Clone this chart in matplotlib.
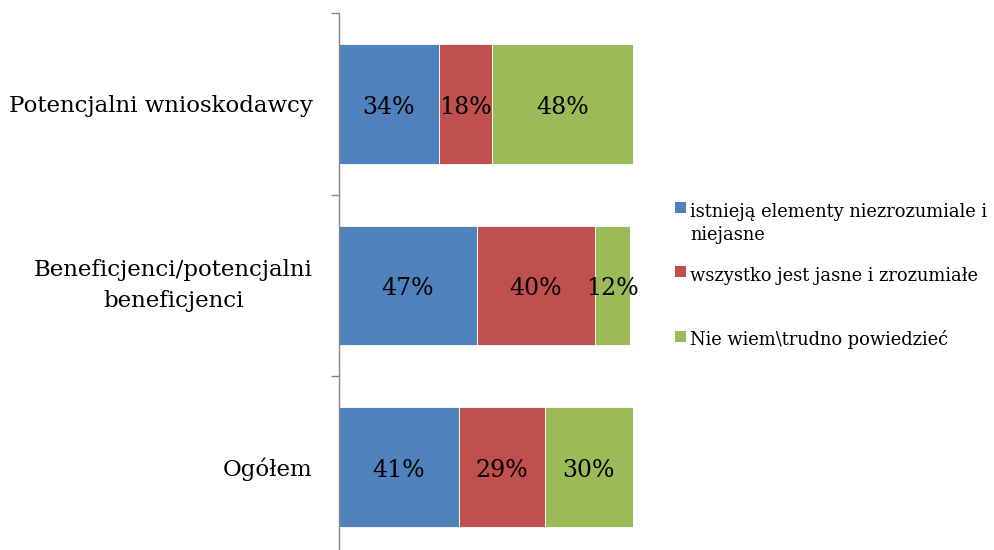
import matplotlib
matplotlib.use("Agg")
import matplotlib.pyplot as plt
from matplotlib.patches import Rectangle
import numpy as np

categories = ["Potencjalni wnioskodawcy", "Beneficjenci/potencjalni\nbeneficjenci", "Ogółem"]
series_names = ["istnieją elementy niezrozumiale i\nniejasne",
                "wszystko jest jasne i zrozumiałe",
                "Nie wiem\\trudno powiedzieć"]
unclear = [34, 47, 41]
clear = [18, 40, 29]
dont_know = [48, 12, 30]
colors = ["#4F81BD", "#C0504D", "#9BBB59"]

W, H = 994, 550
fig = plt.figure(figsize=(W / 100, H / 100), dpi=100)
ax = fig.add_axes([338.5 / W, 1 - 558 / H, (633 - 338.5) / W, (558 - 13) / H])

font = "DejaVu Serif"
y = np.arange(len(categories))
left = np.zeros(len(categories))
for vals, col in zip([unclear, clear, dont_know], colors):
    vals = np.array(vals, dtype=float)
    ax.barh(y, vals, left=left, height=0.66, color=col, edgecolor="white", linewidth=0.6)
    for yi, l, v in zip(y, left, vals):
        ax.annotate(f"{int(v)}%", (l + v / 2, yi), xytext=(0, -2.5), textcoords="offset points",
                    ha="center", va="center", fontsize=17, family=font, color="black")
    left += vals

ax.set_xlim(0, 100)
ax.set_ylim(len(categories) - 0.5, -0.5)
ax.set_xticks([])
ax.set_yticks(y)
ax.set_yticklabels(categories, family=font, fontsize=16.5, ha="right",
                   multialignment="center", linespacing=1.55)
for lbl in ax.get_yticklabels():
    if "\n" in lbl.get_text():
        lbl.set_va("center")
ax.tick_params(axis="y", which="major", length=0, pad=18.5)
ax.set_yticks(np.arange(-0.5, len(categories)), minor=True)
ax.tick_params(axis="y", which="minor", length=6, width=1, color="#868686", direction="out")
for s in ["top", "right", "bottom"]:
    ax.spines[s].set_visible(False)
ax.spines["left"].set_color("#868686")
ax.spines["left"].set_linewidth(1)

# legend: square markers and baseline-aligned text lines, in figure pixels
legend_baselines = [216.7, 280.7, 345]
line_gap = 23.3
for base, name, col in zip(legend_baselines, series_names, colors):
    fig.patches.append(Rectangle((674.5 / W, 1 - (base - 3.5) / H), 11 / W, 11 / H,
                                 transform=fig.transFigure, facecolor=col, edgecolor="none"))
    for i, line in enumerate(name.split("\n")):
        fig.text(690 / W, 1 - (base + i * line_gap) / H, line, ha="left", va="baseline",
                 family=font, fontsize=12.9)

fig.savefig("out.png", dpi=100)
